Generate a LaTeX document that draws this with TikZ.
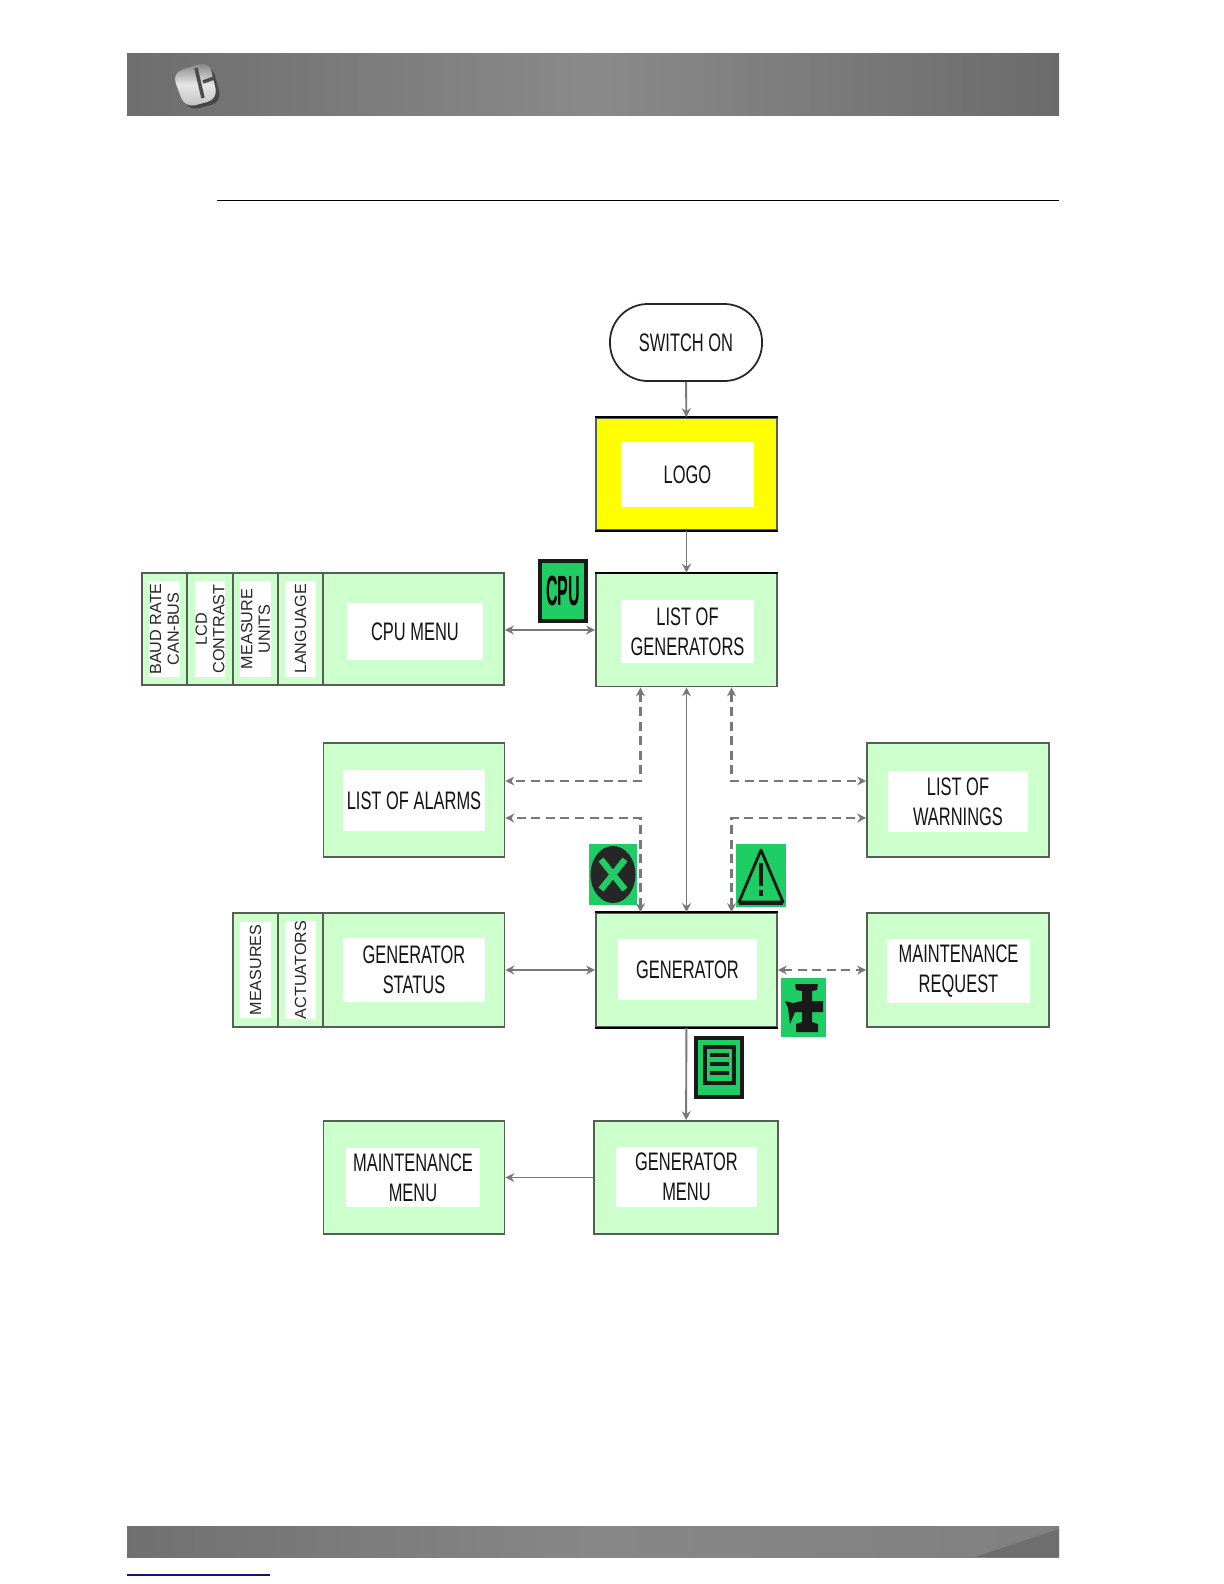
\documentclass[tikz,border=0pt]{standalone}
\usepackage{fontspec}
\usepackage{xcolor}
\usepackage{graphicx}
\usetikzlibrary{arrows.meta,shapes.geometric}
\setmainfont[FakeStretch=0.65]{Liberation Sans}
\newfontfamily\sidefont{Liberation Sans}
\definecolor{boxgreen}{RGB}{204,255,204}
\definecolor{icongreen}{RGB}{30,205,100}
\definecolor{linegray}{RGB}{120,120,120}
\definecolor{edgegray}{RGB}{85,95,85}
\definecolor{logoyellow}{RGB}{255,255,0}
\definecolor{linknavy}{RGB}{20,20,120}
\tikzset{
  greenbox/.style={draw=edgegray,line width=0.45pt,fill=boxgreen,inner sep=0pt},
  yellowbox/.style={greenbox,fill=logoyellow},
  whitebox/.style={fill=white,inner sep=0pt,align=center,text=black!92,font=\fontsize{7.2}{8.6}\selectfont},
  sidebox/.style={greenbox,minimum width=0.45cm,minimum height=1.12cm},
  sidetext/.style={fill=white,inner sep=0pt,minimum width=0.96cm,minimum height=0.30cm,align=center,rotate=90,
    text=black!85,font=\sidefont\fontsize{4.6}{5.0}\selectfont},
  iconbox/.style={fill=icongreen,inner sep=0pt},
  solidlink/.style={draw=linegray,line width=0.55pt},
  dashlink/.style={draw=linegray,line width=0.6pt,dash pattern=on 0.9mm off 0.55mm},
  blackedge/.style={draw=black,line width=0.5pt}
}
\begin{document}
\begin{tikzpicture}[x=0.01cm,y=-0.01cm,>={Stealth[length=0.9mm,width=0.9mm]}]
  \useasboundingbox (0,0) rectangle (1224,1584);
  % page header and footer
  \fill[left color=black!57,right color=black!58,middle color=black!46] (127,53) rectangle (1059,115);
  \fill[left color=black!56,right color=black!50,middle color=black!47] (127,1526) rectangle (1059,1557);
  \fill[black!57] (1059,1529) -- (975,1557) -- (1059,1557) -- cycle;
  \draw[black,line width=0.5pt] (217,200.5) -- (1059,200.5);
  \draw[linknavy,line width=0.4pt] (127,1575) -- (270,1575);
  % header logo
  \fill[black!72,rounded corners=3pt] (176,76) -- (212,65) -- (222,102) -- (188,111) -- cycle;
  \shade[top color=black!52,bottom color=black!25,middle color=black!10,rounded corners=3pt]
    (172,73) -- (209,61) -- (218,99) -- (185,108) -- cycle;
  \draw[black!70,line width=1pt] (196,68) -- (203,98) (203,82) -- (214,78);
  % start and logo
  \node[draw=black!85,line width=0.5pt,rounded corners=0.38cm,minimum width=1.52cm,minimum height=0.77cm,
    inner sep=0pt,text=black!92,font=\fontsize{7.2}{8.6}\selectfont] (switchon) at (686,342.5) {SWITCH ON};
  \node[yellowbox,minimum width=1.81cm,minimum height=1.12cm] (logo) at (686.5,474) {};
  \node[whitebox,minimum width=1.33cm,minimum height=0.65cm] (logotext) at (687.5,474.5) {LOGO};
  \draw[blackedge] (logo.north west) -- (logo.north east) (logo.south west) -- (logo.south east);
  % list of generators row
  \node[greenbox,minimum width=1.81cm,minimum height=1.13cm] (listgen) at (686.5,630) {};
  \node[whitebox,minimum width=1.33cm,minimum height=0.63cm] (listgentext) at (687.5,631.5) {LIST OF\\GENERATORS};
  \draw[blackedge] (listgen.north west) -- (listgen.north east);
  \node[greenbox,minimum width=1.81cm,minimum height=1.12cm] (cpumenu) at (413.5,629) {};
  \node[whitebox,minimum width=1.36cm,minimum height=0.57cm] (cpumenutext) at (415,631.5) {CPU MENU};
  \node[sidebox] (baud) at (164.5,629) {};
  \node[sidetext] (baudtext) at (baud) {BAUD RATE\\CAN-BUS};
  \node[sidebox] (lcd) at (210,629) {};
  \node[sidetext] (lcdtext) at (lcd) {LCD\\CONTRAST};
  \node[sidebox] (units) at (255.5,629) {};
  \node[sidetext] (unitstext) at (units) {MEASURE\\UNITS};
  \node[sidebox] (language) at (300.5,629) {};
  \node[sidetext] (languagetext) at (language) {LANGUAGE};
  % alarms and warnings
  \node[greenbox,minimum width=1.81cm,minimum height=1.14cm] (alarms) at (414,800) {};
  \node[whitebox,minimum width=1.42cm,minimum height=0.61cm] (alarmstext) at (414,800.5) {LIST OF ALARMS};
  \node[greenbox,minimum width=1.82cm,minimum height=1.14cm] (warnings) at (958,800) {};
  \node[whitebox,minimum width=1.40cm,minimum height=0.61cm] (warningstext) at (958,801.5) {LIST OF\\WARNINGS};
  % generator row
  \node[greenbox,minimum width=1.81cm,minimum height=1.14cm] (generator) at (686.5,970) {};
  \node[whitebox,minimum width=1.39cm,minimum height=0.61cm] (generatortext) at (687.5,969.5) {GENERATOR};
  \draw[blackedge] (generator.north west) -- (generator.north east) (generator.south west) -- (generator.south east);
  \node[greenbox,minimum width=1.81cm,minimum height=1.14cm] (status) at (414,970) {};
  \node[whitebox,minimum width=1.42cm,minimum height=0.64cm] (statustext) at (414,970) {GENERATOR\\STATUS};
  \node[sidebox,minimum height=1.14cm] (measures) at (255.5,970) {};
  \node[sidetext] (measurestext) at (measures) {MEASURES};
  \node[sidebox,minimum height=1.14cm] (actuators) at (300.5,970) {};
  \node[sidetext] (actuatorstext) at (actuators) {ACTUATORS};
  \node[greenbox,minimum width=1.82cm,minimum height=1.14cm] (request) at (958,970) {};
  \node[whitebox,minimum width=1.43cm,minimum height=0.64cm] (requesttext) at (958.5,971) {MAINTENANCE\\REQUEST};
  % menus
  \node[greenbox,minimum width=1.84cm,minimum height=1.13cm] (genmenu) at (686,1177.5) {};
  \node[whitebox,minimum width=1.41cm,minimum height=0.60cm] (genmenutext) at (686.5,1177) {GENERATOR\\MENU};
  \node[greenbox,minimum width=1.81cm,minimum height=1.13cm] (maintmenu) at (414,1177.5) {};
  \node[whitebox,minimum width=1.34cm,minimum height=0.59cm] (maintmenutext) at (413,1177.5) {MAINTENANCE\\MENU};
  % connectors
  \draw[solidlink,->] (switchon) -- (logo);
  \draw[solidlink,->] (logo) -- (listgen);
  \draw[solidlink,<->] (cpumenu.east |- listgen) -- (listgen);
  \draw[solidlink,<->] (listgen) -- (generator);
  \draw[solidlink,<->] (status) -- (generator);
  \draw[solidlink,->] (generator) -- (genmenu);
  \draw[solidlink,->] (genmenu) -- (maintmenu);
  \draw[dashlink,<->] (generator) -- (request);
  \draw[dashlink,<->] ([xshift=-0.46cm]listgen.south) |- ([yshift=0.19cm]alarms.east);
  \draw[dashlink,<->] ([xshift=-0.46cm]generator.north) |- ([yshift=-0.18cm]alarms.east);
  \draw[dashlink,<->] ([xshift=0.45cm]listgen.south) |- ([yshift=0.19cm]warnings.west);
  \draw[dashlink,<->] ([xshift=0.45cm]generator.north) |- ([yshift=-0.18cm]warnings.west);
  % soft key icons
  \node[iconbox,draw=black!90,line width=1pt,minimum width=0.46cm,minimum height=0.60cm,
    font=\sidefont\fontsize{12}{12}\selectfont] (cpuicon) at (563,591) {\scalebox{0.38}[1]{\bfseries CPU}};
  \node[iconbox,minimum width=0.48cm,minimum height=0.61cm] (alarmicon) at (613,874.5) {};
  \node[ellipse,fill=black!85,inner sep=0pt,minimum width=0.45cm,minimum height=0.57cm] (alarmball) at (alarmicon) {};
  \draw[icongreen,line width=1.8pt] ([shift={(-0.12cm,0.15cm)}]alarmball.center) -- ([shift={(0.12cm,-0.15cm)}]alarmball.center)
    ([shift={(0.12cm,0.15cm)}]alarmball.center) -- ([shift={(-0.12cm,-0.15cm)}]alarmball.center);
  \node[iconbox,minimum width=0.50cm,minimum height=0.63cm] (warnicon) at (761,875.5) {};
  \draw[black!90,line width=0.8pt,line join=round] (761,850) -- (783,902) -- (739,902) -- cycle;
  \draw[black!90,line width=1.2pt] (761,863) -- (761,886) (761,890) -- (761,896) (739,903) -- (783,903);
  \node[iconbox,minimum width=0.45cm,minimum height=0.59cm] (wrenchicon) at (803.5,1007.5) {};
  \fill[black!90] (795,984) -- (818,984) -- (817,990) -- (812,991) -- (812,1001) -- (823,1001) -- (823,1012)
    -- (812,1012) -- (812,1022) -- (818,1024) -- (818,1032) -- (796,1032) -- (796,1024) -- (802,1022)
    -- (802,1012) -- (795,1012) -- (790,1024) -- (788,1008) -- (785,1001) -- (793,1003) -- (802,1001)
    -- (802,991) -- (796,990) -- cycle;
  \node[iconbox,draw=black!90,line width=1pt,minimum width=0.46cm,minimum height=0.59cm] (menuicon) at (719,1067.5) {};
  \draw[black!90,line width=1pt] (705,1047) rectangle (734,1083);
  \draw[black!90,line width=0.9pt] (710,1055) -- (729,1055) (710,1064) -- (729,1064) (710,1073) -- (729,1073);
\end{tikzpicture}
\end{document}
